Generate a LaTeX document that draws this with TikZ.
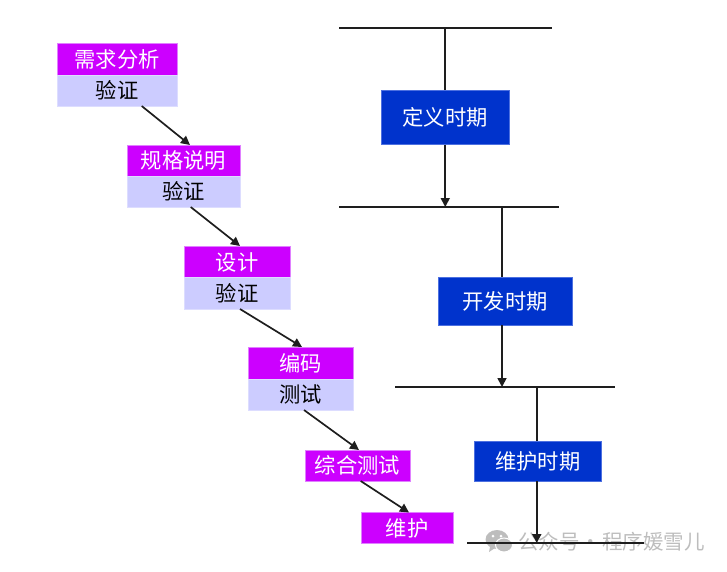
\documentclass[tikz,border=0pt]{standalone}
\usepackage{fontspec}
\setmainfont{Noto Sans CJK SC}
\usetikzlibrary{arrows.meta}
\definecolor{stagemag}{HTML}{CC00FF}
\definecolor{stageedge}{HTML}{E080FF}
\definecolor{checklav}{HTML}{CCCCFF}
\definecolor{checkedge}{HTML}{DDDDFF}
\definecolor{periodblue}{HTML}{0033CC}
\definecolor{periodedge}{HTML}{4D70E0}
\definecolor{inkline}{HTML}{1E1E1E}
\definecolor{markgray}{HTML}{BDBDBD}
\tikzset{
  x=1pt,y=-1pt,
  boxbase/.style={inner sep=0pt,outer sep=0pt,font=\fontsize{21.3}{21.3}\selectfont,line width=0.5pt,text height=18pt,text depth=1.5pt},
  stagebox/.style={boxbase,draw=stageedge,fill=stagemag,text=white},
  checkbox/.style={boxbase,draw=checkedge,fill=checklav,text=black},
  periodbox/.style={boxbase,draw=periodedge,fill=periodblue,text=white},
  timebar/.style={inner sep=0pt,outer sep=0pt,fill=inkline,minimum height=1.5pt},
  conn/.style={draw=inkline,line width=1.7pt},
  arrowconn/.style={conn,-{Triangle[length=9pt,width=9pt]}},
}
\begin{document}
\begin{tikzpicture}
\useasboundingbox (0,0) rectangle (727,571);
% left column
\node[stagebox,minimum width=120pt,minimum height=31.5pt] (n1) at (117,59.25) {需求分析};
\node[checkbox,minimum width=120pt,minimum height=31pt] (v1) at (117,90.5) {验证};
\node[stagebox,minimum width=113pt,minimum height=31pt] (n2) at (183.5,160.5) {规格说明};
\node[checkbox,minimum width=113pt,minimum height=31pt] (v2) at (183.5,191.5) {验证};
\node[stagebox,minimum width=106pt,minimum height=31.5pt] (n3) at (237,261.75) {设计};
\node[checkbox,minimum width=106pt,minimum height=31.5pt] (v3) at (237,293.25) {验证};
\node[stagebox,minimum width=104.5pt,minimum height=32pt] (n4) at (300.75,363) {编码};
\node[checkbox,minimum width=104.5pt,minimum height=31pt] (v4) at (300.75,394.5) {测试};
\node[stagebox,minimum width=105pt,minimum height=31pt] (n5) at (357.5,465.5) {综合测试};
\node[stagebox,minimum width=91.5pt,minimum height=31pt] (n6) at (407.25,528) {维护};
% left connectors
\draw[arrowconn] ([xshift=24.7pt]v1.south) -- ([xshift=6.5pt]n2.north);
\draw[arrowconn] ([xshift=7.2pt]v2.south) -- ([xshift=3pt]n3.north);
\draw[arrowconn] ([xshift=3pt]v3.south) -- ([xshift=1.25pt]n4.north);
\draw[arrowconn] ([xshift=3.25pt]v4.south) -- ([xshift=1.5pt]n5.north);
\draw[arrowconn] ([xshift=3.2pt]n5.south) -- ([xshift=1.75pt]n6.north);
% watermark (under the last bar)
\fill[markgray] (497,539.5) ellipse [x radius=11.5pt,y radius=9.5pt];
\fill[markgray] (490,547) -- (489,552) -- (495,548) -- cycle;
\fill[markgray,draw=white,line width=1pt] (504,545) ellipse [x radius=8.5pt,y radius=7pt];
\fill[white] (493,536) circle [radius=1.5pt] (501,536) circle [radius=1.5pt];
\fill[white] (501,543) circle [radius=1.1pt] (507,543) circle [radius=1.1pt];
\node[inner sep=0pt,text=markgray,font=\fontsize{20.5}{20.5}\selectfont] (mark) at (611.5,541.5) {公众号\hspace{1pt}·\hspace{1pt}程序媛雪儿};
% right column
\node[timebar,minimum width=213pt] (b1) at (445.5,28) {};
\node[timebar,minimum width=220pt] (b2) at (449,207) {};
\node[timebar,minimum width=220pt] (b3) at (505,387) {};
\node[timebar,minimum width=177pt] (b4) at (555.5,543) {};
\node[periodbox,minimum width=127.5pt,minimum height=54.5pt] (def) at (445.25,117.25) {定义时期};
\node[periodbox,minimum width=134.5pt,minimum height=48pt] (dev) at (505.25,301) {开发时期};
\node[periodbox,minimum width=126.5pt,minimum height=40pt] (mnt) at (537.75,461) {维护时期};
\draw[conn] (b1.center -| def.north) -- (def.north);
\draw[arrowconn] (def.south) -- (def.south |- b2.center);
\draw[conn] ([xshift=-3.25pt]dev.north |- b2.center) -- ([xshift=-3.25pt]dev.north);
\draw[arrowconn] ([xshift=-3.25pt]dev.south) -- ([xshift=-3.25pt]dev.south |- b3.center);
\draw[conn,line width=2pt] ([xshift=-1pt]mnt.north |- b3.center) -- ([xshift=-1pt]mnt.north);
\draw[arrowconn,line width=2pt] ([xshift=-1pt]mnt.south) -- ([xshift=-1pt]mnt.south |- b4.center);
\end{tikzpicture}
\end{document}
